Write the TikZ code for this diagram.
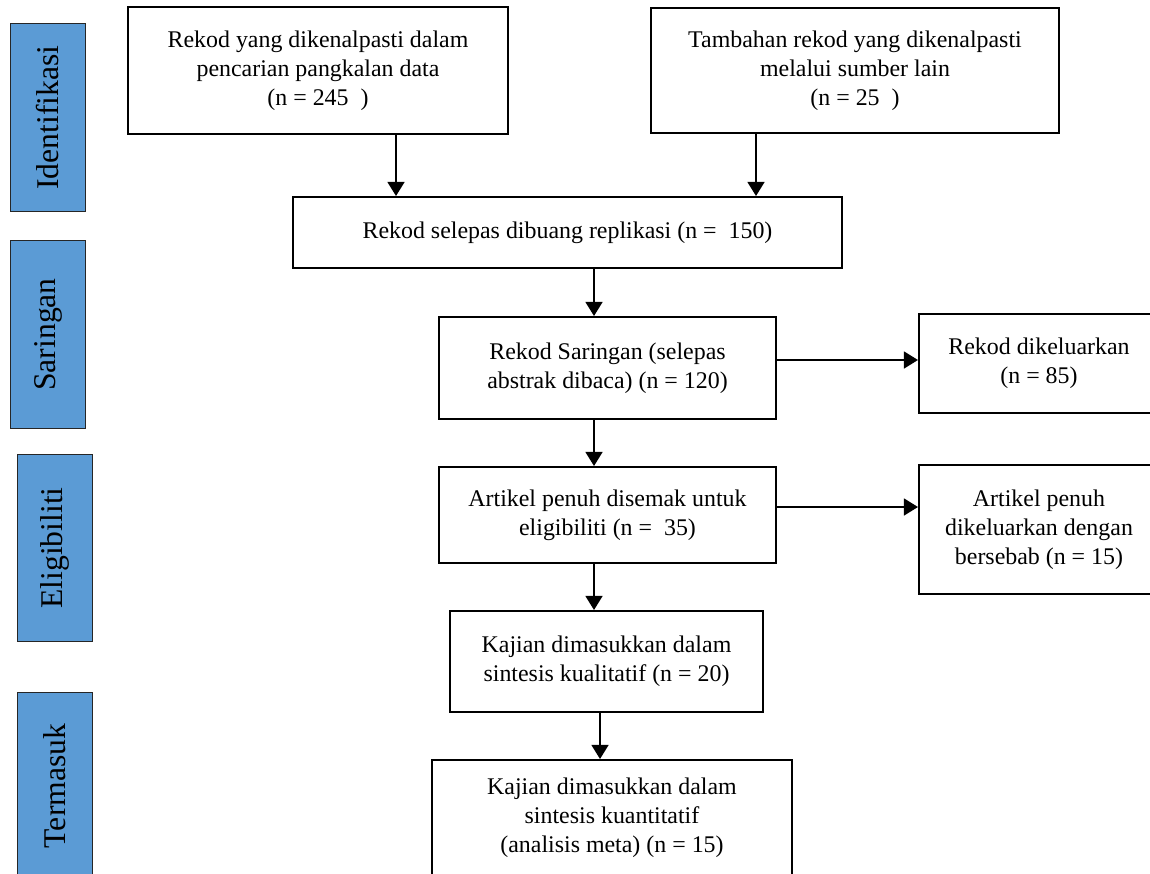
\documentclass[tikz,border=0pt]{standalone}
\usepackage{fontspec}
\setmainfont{Liberation Serif}
\usetikzlibrary{arrows.meta}
\definecolor{phaseblue}{HTML}{5B9BD5}
\begin{document}
\begin{tikzpicture}[x=0.025cm, y=-0.025cm,
		box/.style={draw, line width=1.4pt, align=center, inner sep=0pt, font=\fontsize{17}{20.5}\selectfont},
		phase/.style={draw=black!85, line width=0.7pt, fill=phaseblue, rotate=90, inner sep=0pt,
			minimum height=1.85cm, font=\fontsize{22.5}{27}\selectfont},
		arr/.style={line width=1.4pt, -{Triangle[width=12pt,length=10pt]}}]
	\useasboundingbox (0,0) rectangle (1150,874);
	\clip (0,0) rectangle (1150,874);
	\node[phase, minimum width=4.675cm] (identifikasi) at (48,117.5) {Identifikasi};
	\node[phase, minimum width=4.675cm] (saringan) at (48,334.5) {Saringan};
	\node[phase, minimum width=4.65cm] (eligibiliti) at (55,548) {Eligibiliti};
	\node[phase, minimum width=4.675cm] (termasuk) at (55,786) {Termasuk};
	\node[box, minimum width=9.5cm, minimum height=3.175cm] (recDb) at (318,70.5)
		{Rekod yang dikenalpasti dalam\\pencarian pangkalan data\\(n = 245\ \ )};
	\node[box, minimum width=10.2cm, minimum height=3.125cm] (recOther) at (855,70.5)
		{Tambahan rekod yang dikenalpasti\\melalui sumber lain\\(n = 25\ \ )};
	\node[box, minimum width=13.725cm, minimum height=1.775cm] (recDedup) at (567.5,232.5)
		{Rekod selepas dibuang replikasi (n =\ \ 150)};
	\node[box, minimum width=8.425cm, minimum height=2.55cm] (recScreen) at (607.5,368)
		{Rekod Saringan (selepas\\abstrak dibaca) (n = 120)};
	\node[box, minimum width=6cm, minimum height=2.475cm] (recExcl) at (1039,363.5)
		{Rekod dikeluarkan\\(n = 85)};
	\node[box, minimum width=8.425cm, minimum height=2.4cm] (fullText) at (607.5,515)
		{Artikel penuh disemak untuk\\eligibiliti (n =\ \ 35)};
	\node[box, minimum width=6cm, minimum height=3.225cm] (fullExcl) at (1039,529.5)
		{Artikel penuh\\dikeluarkan dengan\\bersebab (n = 15)};
	\node[box, minimum width=7.825cm, minimum height=2.525cm] (qualit) at (606.5,661.5)
		{Kajian dimasukkan dalam\\sintesis kualitatif (n = 20)};
	\node[box, minimum width=9cm, minimum height=2.9cm] (quant) at (612,818)
		{Kajian dimasukkan dalam\\sintesis kuantitatif\\(analisis meta) (n = 15)};
	\draw[arr] (recDb.south -| 396,0) -- (recDedup.north -| 396,0);
	\draw[arr] (recOther.south -| 756,0) -- (recDedup.north -| 756,0);
	\draw[arr] (recDedup.south -| 594,0) -- (recScreen.north -| 594,0);
	\draw[arr] (recScreen.east |- 0,360) -- (recExcl.west |- 0,360);
	\draw[arr] (recScreen.south -| 594,0) -- (fullText.north -| 594,0);
	\draw[arr] (fullText.east |- 0,507) -- (fullExcl.west |- 0,507);
	\draw[arr] (fullText.south -| 594,0) -- (qualit.north -| 594,0);
	\draw[arr] (qualit.south -| 600,0) -- (quant.north -| 600,0);
\end{tikzpicture}
\end{document}
